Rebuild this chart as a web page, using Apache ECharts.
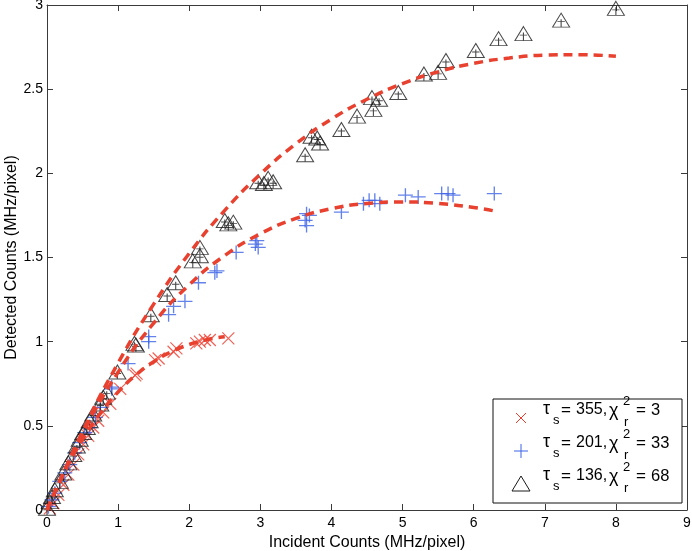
<!DOCTYPE html>
<html>
<head>
<meta charset="utf-8">
<script src="https://cdn.jsdelivr.net/npm/echarts@6/dist/echarts.min.js"></script>
<style>html,body{margin:0;padding:0;background:#fff}#c{width:692px;height:551px}</style>
</head>
<body>
<div id="c"></div>
<script>
// ---- data ----
const crossPts = [[0.04,0.01],[0.09,0.04],[0.16,0.09],[0.23,0.15],[0.30,0.21],[0.37,0.27],[0.44,0.33],[0.51,0.39],[0.58,0.44],[0.65,0.49],[0.72,0.53],[0.79,0.58],[0.89,0.63],[1.03,0.72],[1.24,0.80],[1.26,0.81],[1.52,0.89],[1.57,0.90],[1.78,0.94],[1.82,0.96],[2.10,0.99],[2.15,1.00],[2.22,1.01],[2.29,1.01],[2.55,1.02]];
const plusPts = [[0.02,0.02],[0.07,0.06],[0.11,0.10],[0.18,0.17],[0.25,0.22],[0.32,0.27],[0.39,0.34],[0.46,0.40],[0.53,0.46],[0.60,0.49],[0.68,0.55],[0.75,0.61],[0.91,0.72],[0.91,0.73],[1.14,0.87],[1.43,1.00],[1.43,1.03],[1.71,1.16],[1.78,1.21],[1.94,1.24],[2.13,1.35],[2.36,1.41],[2.39,1.42],[2.66,1.53],[2.93,1.58],[2.95,1.60],[2.97,1.56],[3.63,1.72],[3.65,1.69],[3.65,1.76],[3.69,1.75],[4.14,1.77],[4.45,1.82],[4.53,1.84],[4.61,1.84],[4.68,1.82],[5.04,1.87],[5.22,1.86],[5.55,1.88],[5.64,1.88],[5.71,1.87],[6.29,1.88]];
const triPts = [[0.00,0.01],[0.04,0.05],[0.07,0.08],[0.11,0.12],[0.18,0.17],[0.23,0.22],[0.30,0.28],[0.37,0.33],[0.42,0.38],[0.46,0.42],[0.51,0.46],[0.56,0.49],[0.60,0.53],[0.65,0.57],[0.75,0.63],[0.79,0.67],[0.84,0.70],[0.99,0.82],[1.23,0.99],[1.25,0.98],[1.46,1.16],[1.69,1.28],[1.81,1.35],[2.05,1.48],[2.15,1.51],[2.15,1.56],[2.50,1.72],[2.55,1.70],[2.62,1.71],[2.97,1.95],[3.05,1.94],[3.11,1.97],[3.18,1.95],[3.63,2.11],[3.72,2.22],[3.80,2.21],[3.84,2.18],[4.14,2.26],[4.36,2.34],[4.57,2.45],[4.59,2.38],[4.67,2.44],[4.94,2.48],[5.30,2.59],[5.50,2.60],[5.61,2.67],[6.03,2.73],[6.35,2.80],[6.70,2.83],[7.23,2.91],[8.00,2.98]];
const fit355 = [[0,0],[0.25,0.229],[0.5,0.419],[0.75,0.575],[1.0,0.701],[1.25,0.802],[1.5,0.881],[1.75,0.940],[2.0,0.983],[2.25,1.012],[2.5,1.029]];
const fit201 = [[0,0],[0.5,0.452],[1,0.818],[1.5,1.110],[2,1.338],[2.5,1.512],[3,1.641],[3.5,1.732],[4,1.790],[4.5,1.821],[5,1.830],[5.5,1.821],[6,1.797],[6.3,1.776]];
const fit136 = [[0,0],[0.5,0.467],[1,0.873],[1.5,1.223],[2,1.524],[2.5,1.780],[3,1.995],[3.5,2.175],[4,2.322],[4.5,2.440],[5,2.533],[5.5,2.603],[6,2.653],[6.5,2.685],[7,2.702],[7.5,2.705],[8,2.695]];
const tauValues = ['355','201','136'];
const chiValues = ['3','33','68'];
const xAxisTitle = 'Incident Counts (MHz/pixel)';
const yAxisTitle = 'Detected Counts (MHz/pixel)';

// ---- styles ----
const FONT = '"Liberation Sans", Arial, Helvetica, sans-serif';
const RED = '#ec3b2c';
const LINE_RED = '#e8412f';
const BLUE = '#3d63e6';
const BLACK = '#1a1a1a';
const AX = '#3a3a3a';

const symCross = 'path://M0,0L10,10M10,0L0,10';
const symPlus = 'path://M7,0L7,14M0,7L14,7';
const symTri = 'path://M8,0L16,14L0,14Z M4.5,8.5L11.5,8.5 M8,6L8,14';

function axisCommon(extra) {
  return Object.assign({
    type: 'value',
    axisLine: { show: true, onZero: false, lineStyle: { color: AX, width: 1 } },
    axisTick: { show: true, inside: true, length: 6, lineStyle: { color: AX } },
    splitLine: { show: false },
  }, extra);
}

const chart = echarts.init(document.getElementById('c'), null, { renderer: 'canvas' });

// legend drawn as graphic (stacked sub/superscripts)
const LX = 493, LY = 399, LW = 189, LH = 104;
const legendEls = [{
  type: 'rect', shape: { x: LX, y: LY, width: LW, height: LH },
  style: { fill: '#fff', stroke: '#111', lineWidth: 1 }, z: 100
}];
const rowC = [410, 443, 476];
const symY = [418, 451, 484];
const sx = 521;
legendEls.push({ type: 'line', shape: { x1: sx - 5, y1: symY[0] - 5, x2: sx + 5, y2: symY[0] + 5 }, style: { stroke: RED, lineWidth: 1 }, z: 101 });
legendEls.push({ type: 'line', shape: { x1: sx + 5, y1: symY[0] - 5, x2: sx - 5, y2: symY[0] + 5 }, style: { stroke: RED, lineWidth: 1 }, z: 101 });
legendEls.push({ type: 'line', shape: { x1: sx - 7, y1: symY[1], x2: sx + 7, y2: symY[1] }, style: { stroke: BLUE, lineWidth: 1 }, z: 101 });
legendEls.push({ type: 'line', shape: { x1: sx, y1: symY[1] - 7, x2: sx, y2: symY[1] + 7 }, style: { stroke: BLUE, lineWidth: 1 }, z: 101 });
legendEls.push({ type: 'polygon', shape: { points: [[sx, symY[2] - 8], [sx + 9, symY[2] + 7], [sx - 9, symY[2] + 7]] }, style: { fill: 'none', stroke: BLACK, lineWidth: 1 }, z: 101 });

function txt(x, y, s, size) {
  return { type: 'text', x: x, y: y, z: 102,
    style: { text: s, fontSize: size, fontFamily: FONT, fill: '#000', textAlign: 'left', textVerticalAlign: 'middle' } };
}
for (let i = 0; i < 3; i++) {
  const c = rowC[i];
  legendEls.push(txt(543, c - 1, 'τ', 18));
  legendEls.push(txt(553, c + 10, 's', 13));
  legendEls.push(txt(561, c, '=', 17));
  legendEls.push(txt(576, c, tauValues[i] + ',', 16));
  legendEls.push(txt(609, c + 1, 'χ', 18));
  legendEls.push(txt(623, c - 9, '2', 13));
  legendEls.push(txt(624, c + 12, 'r', 13));
  legendEls.push(txt(636, c, '=', 17));
  legendEls.push(txt(651, c, chiValues[i], 16.5));
}

const option = {
  animation: false,
  backgroundColor: '#fff',
  textStyle: { fontFamily: FONT },
  grid: { left: 47, right: 5, top: 5, bottom: 41, containLabel: false, outerBoundsMode: 'none' },
  xAxis: [
    axisCommon({ position: 'bottom', min: 0, max: 9, interval: 1,
      axisLabel: { show: true, margin: 6, fontSize: 14, color: '#000', fontFamily: FONT },
      name: xAxisTitle, nameLocation: 'middle', nameGap: 23,
      nameTextStyle: { fontSize: 16, color: '#000', fontFamily: FONT } }),
    axisCommon({ position: 'top', min: 0, max: 9, interval: 1, axisLabel: { show: false } })
  ],
  yAxis: [
    axisCommon({ position: 'left', min: 0, max: 3, interval: 0.5,
      axisLabel: { show: true, margin: 4, fontSize: 14, color: '#000', fontFamily: FONT },
      name: yAxisTitle, nameLocation: 'middle', nameGap: 27, nameMoveOverlap: false,
      nameTextStyle: { fontSize: 16, color: '#000', fontFamily: FONT } }),
    axisCommon({ position: 'right', min: 0, max: 3, interval: 0.5, axisLabel: { show: false } })
  ],
  series: [
    { name: 'tau355', type: 'scatter', data: crossPts, symbol: symCross, symbolSize: 12,
      itemStyle: { color: 'rgba(0,0,0,0)', borderColor: RED, borderWidth: 1.2 } },
    { name: 'tau201', type: 'scatter', data: plusPts, symbol: symPlus, symbolSize: [15, 14],
      itemStyle: { color: 'rgba(0,0,0,0)', borderColor: BLUE, borderWidth: 1.3 } },
    { name: 'tau136', type: 'scatter', data: triPts, symbol: symTri, symbolSize: [17, 14],
      itemStyle: { color: 'rgba(0,0,0,0)', borderColor: BLACK, borderWidth: 1 } },
    { name: 'fit355', type: 'line', data: fit355, smooth: true, showSymbol: false, symbol: 'none',
      lineStyle: { color: LINE_RED, width: 3.5, type: [9, 6] }, z: 3 },
    { name: 'fit201', type: 'line', data: fit201, smooth: true, showSymbol: false, symbol: 'none',
      lineStyle: { color: LINE_RED, width: 3.5, type: [9, 6] }, z: 3 },
    { name: 'fit136', type: 'line', data: fit136, smooth: true, showSymbol: false, symbol: 'none',
      lineStyle: { color: LINE_RED, width: 3.5, type: [9, 6] }, z: 3 }
  ],
  graphic: legendEls
};
chart.setOption(option);
</script>
</body>
</html>
